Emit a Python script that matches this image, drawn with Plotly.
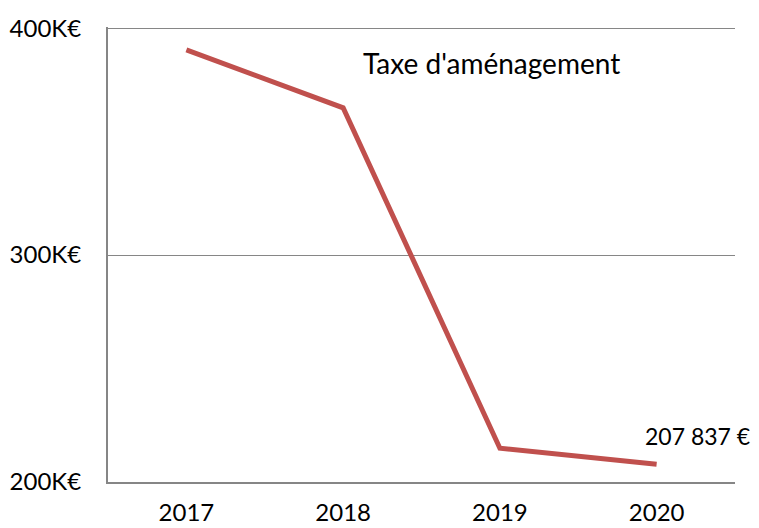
import plotly.graph_objects as go

annees = ['2017', '2018', '2019', '2020']
montants = [390400, 364900, 214900, 207837]
ticks_y = [200000, 300000, 400000]
labels_y = ['200K€', '300K€', '400K€']
titre = "Taxe d'aménagement"
etiquette_fin = '207 837 €'

fig = go.Figure()
fig.add_trace(go.Scatter(
    x=annees,
    y=montants,
    mode='lines',
    line=dict(color='#C0504D', width=5),
    hoverinfo='x+y'
))

# étiquette de la dernière valeur (index de catégorie, pas la chaîne '2020')
fig.add_annotation(
    x=len(annees) - 1, y=montants[-1],
    text=etiquette_fin,
    showarrow=False,
    xanchor='left', yanchor='middle',
    xshift=-14, yshift=28,
    font=dict(size=23, color='#000000')
)

fig.add_annotation(
    x=0.611, y=0.921, xref='paper', yref='paper',
    text=titre,
    showarrow=False,
    xanchor='center', yanchor='middle',
    font=dict(size=28, color='#000000')
)

# la page html ajoute une marge de 8 px : figure un peu plus petite que la fenêtre
fig.update_layout(
    width=751, height=520,
    margin=dict(l=100, r=24, t=19, b=46),
    plot_bgcolor='white',
    paper_bgcolor='white',
    showlegend=False,
    font=dict(family='Lato, Open Sans, sans-serif', size=24, color='#000000')
)

fig.update_xaxes(
    type='category',
    range=[-0.5, 3.5],
    automargin=False,
    showgrid=False,
    showline=True, linecolor='#868686', linewidth=2,
    ticks='outside', ticklen=8, tickcolor='rgba(0,0,0,0)',
    tickfont=dict(size=24)
)

fig.update_yaxes(
    range=[200000, 400500],
    automargin=False,
    tickvals=ticks_y,
    ticktext=labels_y,
    showgrid=True, gridcolor='#868686', gridwidth=1,
    showline=True, linecolor='#868686', linewidth=2,
    ticks='outside', ticklen=20, tickcolor='rgba(0,0,0,0)',
    zeroline=False,
    tickfont=dict(size=24)
)

fig.write_html("out.html")
